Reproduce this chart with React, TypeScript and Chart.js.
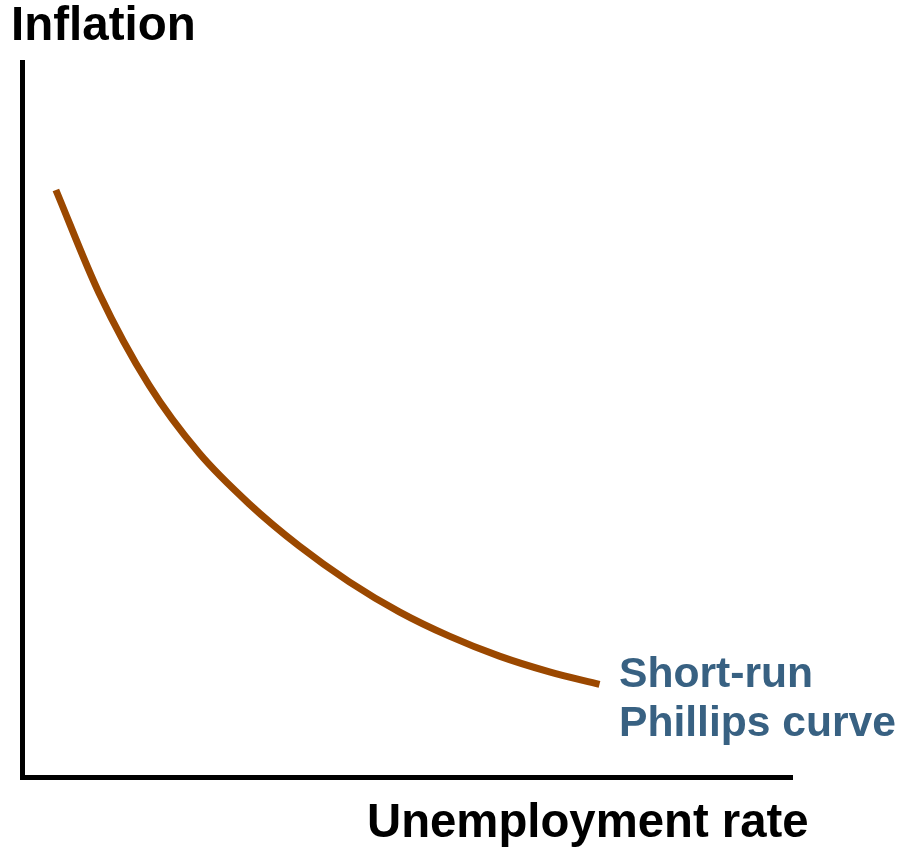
import React, { useEffect, useRef } from "react";
import { Chart, registerables } from "chart.js";

Chart.register(...registerables);

// Curve (axis units: 0..100 on both axes, no ticks shown)
const unemployment = [4.4, 10.0, 16.5, 23.0, 29.5, 36.0, 42.5, 49.0, 55.5, 62.0, 68.5, 75.0];
const inflation = [82.1, 67.7, 54.8, 45.3, 38.2, 32.3, 27.3, 23.1, 19.7, 16.9, 14.7, 12.95];

const yTitle = "Inflation";
const xTitle = "Unemployment rate";
const curveLabel = ["Short-run", "Phillips curve"];

const FONT = "'Liberation Sans', Arial, Helvetica, sans-serif";

export default function App() {
  const ref = useRef<HTMLCanvasElement | null>(null);

  useEffect(() => {
    if (!ref.current) return;
    const chart = new Chart(ref.current, {
      type: "line",
      data: {
        datasets: [
          {
            data: unemployment.map((x, i) => ({ x, y: inflation[i] })),
            borderColor: "#9B4800",
            borderWidth: 7,
            borderCapStyle: "butt",
            borderJoinStyle: "round",
            pointRadius: 0,
            cubicInterpolationMode: "monotone",
            fill: false,
          },
        ],
      },
      options: {
        animation: false,
        responsive: false,
        devicePixelRatio: 1,
        layout: { padding: { left: 14, top: 62, right: 112, bottom: 65 } },
        plugins: { legend: { display: false }, tooltip: { enabled: false }, title: { display: false } },
        scales: {
          x: {
            type: "linear",
            min: 0,
            max: 100,
            grid: { display: false },
            ticks: { display: false },
            border: { display: true, color: "#000", width: 5 },
          },
          y: {
            type: "linear",
            min: 0,
            max: 100,
            grid: { display: false },
            ticks: { display: false },
            border: { display: true, color: "#000", width: 5 },
          },
        },
      },
    });
    return () => chart.destroy();
  }, []);

  const bold: React.CSSProperties = {
    position: "absolute",
    fontFamily: FONT,
    fontWeight: 700,
    whiteSpace: "nowrap",
    margin: 0,
  };

  return (
    <div style={{ position: "absolute", left: 0, top: 0, width: 904, height: 850, background: "#fff", overflow: "hidden" }}>
      <canvas ref={ref} width={904} height={850} style={{ position: "absolute", left: 0, top: 0, width: 904, height: 850 }} />
      <div style={{ ...bold, left: 11, top: 0, fontSize: 47.5, lineHeight: "47.5px", color: "#000" }}>{yTitle}</div>
      <div style={{ ...bold, left: 367, top: 797, fontSize: 47.3, lineHeight: "47.3px", color: "#000" }}>{xTitle}</div>
      <div style={{ ...bold, left: 619, top: 648, fontSize: 42.6, lineHeight: "49px", color: "#386182" }}>
        {curveLabel.map((l) => (
          <div key={l}>{l}</div>
        ))}
      </div>
    </div>
  );
}
